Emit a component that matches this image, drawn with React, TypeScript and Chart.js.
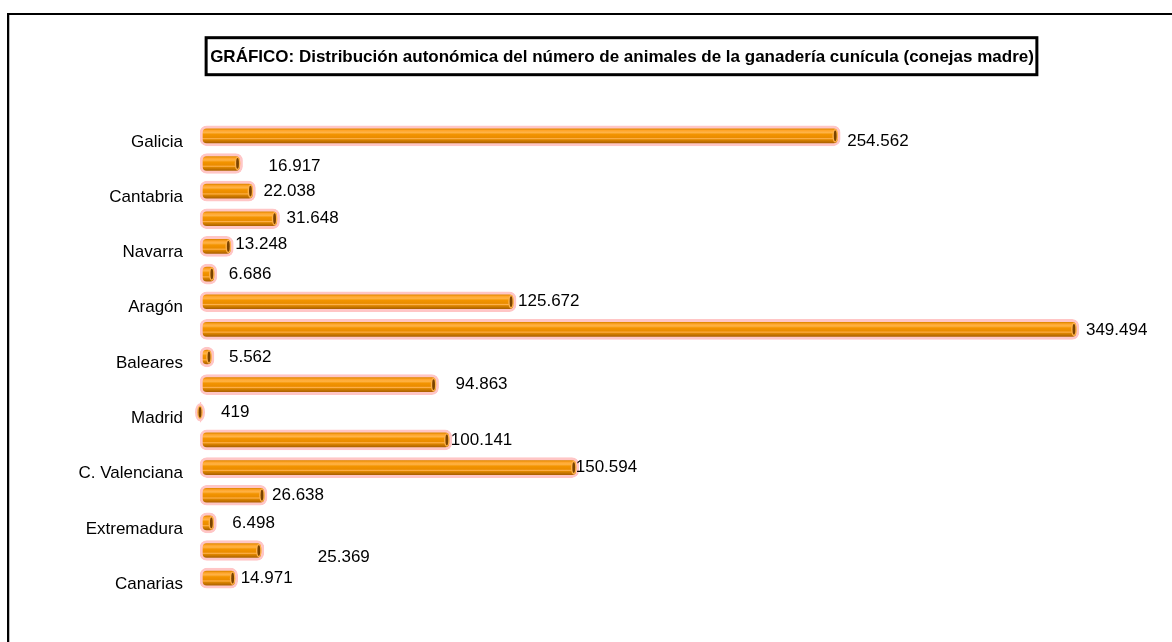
import React, { useEffect, useRef } from "react";
import { Chart, registerables } from "chart.js";

Chart.register(...registerables);

const categories = [
  "Galicia",
  "P. de Asturias",
  "Cantabria",
  "País Vasco",
  "Navarra",
  "La Rioja",
  "Aragón",
  "Cataluña",
  "Baleares",
  "Castilla y León",
  "Madrid",
  "Castilla-La Mancha",
  "C. Valenciana",
  "R. de Murcia",
  "Extremadura",
  "Andalucía",
  "Canarias",
];

const values = [
  254562, 16917, 22038, 31648, 13248, 6686, 125672, 349494, 5562, 94863, 419,
  100141, 150594, 26638, 6498, 25369, 14971,
];

const titleText =
  "GRÁFICO: Distribución autonómica del número de animales de la ganadería cunícula (conejas madre)";

// label nudges (px) to mimic hand-placed value labels
const labelDx = [7, 26, 8, 7, 2, 12, 2, 7, 15, 17, 20, -1, -3, 5, 16, 54, 3];
const labelDy = [5, 3, 0, 0, -2, 0, 0, 1, 0, 0, 0, 0, 0, 0, 0, 7, 0];

const FONT = "'Liberation Sans', Arial, sans-serif";
const TITLE_SIZE = 17;
const TITLE_PAD_TOP = 47;

function fmt(v: number): string {
  return String(v).replace(/\B(?=(\d{3})+(?!\d))/g, ".");
}

const capsAndLabels = {
  id: "capsAndLabels",
  afterDatasetsDraw(chart: any) {
    const ctx = chart.ctx;
    const meta = chart.getDatasetMeta(0);
    ctx.save();
    meta.data.forEach((el: any, i: number) => {
      const x = el.x;
      const y = el.y;
      const base = el.base;
      const len = x - base;
      const capX = Math.max(x - 5, base);
      if (len < 10) {
        ctx.fillStyle = "#FFC6C6";
        ctx.beginPath();
        ctx.ellipse(capX, y, 5, 9, 0, 0, Math.PI * 2);
        ctx.fill();
      }
      ctx.fillStyle = "#FFB24A";
      ctx.beginPath();
      ctx.ellipse(capX, y, 2.8, 6.8, 0, 0, Math.PI * 2);
      ctx.fill();
      ctx.fillStyle = "#7A4300";
      ctx.beginPath();
      ctx.ellipse(capX, y, 1.4, 5.4, 0, 0, Math.PI * 2);
      ctx.fill();

      ctx.fillStyle = "#000";
      ctx.font = `17px ${FONT}`;
      ctx.textAlign = "left";
      ctx.textBaseline = "middle";
      ctx.fillText(fmt(values[i]), x + labelDx[i], y + labelDy[i]);
    });
    ctx.restore();
  },
  afterDraw(chart: any) {
    const tb = chart.titleBlock;
    if (!tb) return;
    const ctx = chart.ctx;
    ctx.save();
    ctx.font = `bold ${TITLE_SIZE}px ${FONT}`;
    const w = ctx.measureText(titleText).width;
    const cx = (tb.left + tb.right) / 2;
    const midY = tb.top + TITLE_PAD_TOP + (TITLE_SIZE * 1.2) / 2;
    ctx.strokeStyle = "#000";
    ctx.lineWidth = 3;
    ctx.strokeRect(cx - w / 2 - 4, midY - 19.5, w + 7, 37);
    ctx.restore();
  },
};

export default function App() {
  const ref = useRef<HTMLCanvasElement | null>(null);

  useEffect(() => {
    if (!ref.current) return;
    const chart = new Chart(ref.current, {
      type: "bar",
      data: {
        labels: categories,
        datasets: [
          {
            data: values,
            barThickness: 20,
            borderWidth: 3,
            borderColor: "#FFC6C6",
            borderRadius: 7,
            borderSkipped: false,
            backgroundColor: (c: any) => {
              const ch = c.chart;
              const ys = ch.scales && ch.scales.y;
              if (!ys || !ch.chartArea || c.dataIndex === undefined) return "#EE9000";
              const yc = ys.getPixelForValue(c.dataIndex);
              const g = ch.ctx.createLinearGradient(0, yc - 7, 0, yc + 7);
              g.addColorStop(0, "#E08800");
              g.addColorStop(0.12, "#FFA52A");
              g.addColorStop(0.26, "#FFB347");
              g.addColorStop(0.4, "#F39400");
              g.addColorStop(0.62, "#EA8C00");
              g.addColorStop(0.7, "#FFB04A");
              g.addColorStop(0.78, "#DE8600");
              g.addColorStop(1, "#AE6300");
              return g;
            },
          },
        ],
      },
      options: {
        indexAxis: "y",
        animation: false,
        responsive: false,
        layout: { padding: { left: 76, right: 4, top: 0, bottom: 50 } },
        plugins: {
          legend: { display: false },
          tooltip: { enabled: false },
          title: {
            display: true,
            text: titleText,
            color: "#000",
            font: { family: FONT, size: TITLE_SIZE, weight: "bold", lineHeight: 1.2 },
            padding: { top: TITLE_PAD_TOP, bottom: 122 - TITLE_PAD_TOP - TITLE_SIZE * 1.2 },
          },
        },
        scales: {
          x: { display: false, min: 0, max: 384900 },
          y: {
            grid: { display: false },
            border: { display: false },
            afterFit: (s: any) => {
              s.width = 124;
            },
            ticks: {
              autoSkip: false,
              color: "#000",
              padding: 9,
              labelOffset: 6,
              font: { family: FONT, size: 17 },
              callback: (_v: any, i: number) => (i % 2 === 0 ? categories[i] : ""),
            },
          },
        },
      },
      plugins: [capsAndLabels],
    } as any);
    return () => chart.destroy();
  }, []);

  return (
    <div style={{ position: "fixed", left: 0, top: 0, width: 1172, height: 642, background: "#fff", overflow: "hidden" }}>
      <canvas ref={ref} width={1172} height={642} style={{ position: "absolute", left: 0, top: 0, width: 1172, height: 642 }} />
      <div
        style={{
          position: "absolute",
          left: 7,
          top: 13,
          width: 1300,
          height: 800,
          border: "2px solid #000",
          boxShadow: "inset 1px 0 0 #bbb",
          pointerEvents: "none",
        }}
      />
    </div>
  );
}
